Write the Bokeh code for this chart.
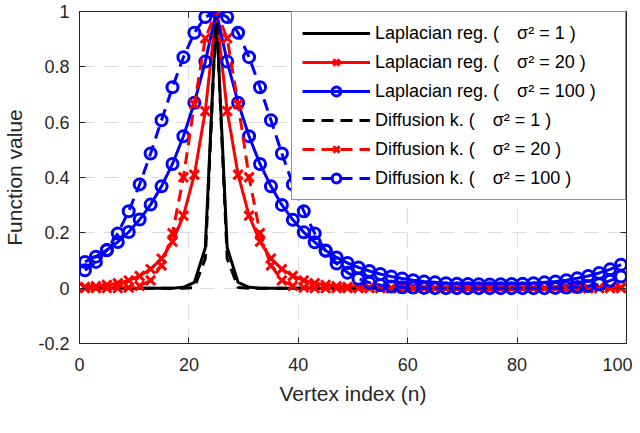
from bokeh.embed import file_html
from bokeh.resources import INLINE
from bokeh.models import (ColumnDataSource, Range1d, FixedTicker, LinearAxis,
                          Legend, LegendItem)
from bokeh.plotting import figure

# vertex indices (every other vertex is plotted)
vertex = [1, 3, 5, 7, 9, 11, 13, 15, 17, 19, 21, 23, 25, 27, 29, 31, 33, 35, 37, 39,
          41, 43, 45, 47, 49, 51, 53, 55, 57, 59, 61, 63, 65, 67, 69, 71, 73, 75, 77, 79,
          81, 83, 85, 87, 89, 91, 93, 95, 97, 99]

lap_1 = [0, 0, 0, 0, 0, 0, 0, 0, 0, 0.003, 0.021, 0.146, 1.0, 0.146, 0.021, 0.003,
         0, 0, 0, 0, 0, 0, 0, 0, 0, 0, 0, 0, 0, 0, 0, 0, 0, 0, 0, 0, 0, 0, 0, 0,
         0, 0, 0, 0, 0, 0, 0, 0, 0, 0]
lap_20 = [0.005, 0.007, 0.012, 0.018, 0.028, 0.044, 0.069, 0.107, 0.168, 0.262,
          0.410, 0.640, 1.0, 0.640, 0.410, 0.262, 0.168, 0.107, 0.069, 0.044,
          0.028, 0.018, 0.012, 0.007, 0.005, 0.003, 0.002, 0.001, 0, 0,
          0, 0, 0, 0, 0, 0, 0, 0, 0, 0, 0, 0, 0, 0, 0, 0, 0, 0.001, 0.002, 0.003]
lap_100 = [0.095, 0.114, 0.138, 0.167, 0.203, 0.248, 0.302, 0.368, 0.449, 0.549,
           0.670, 0.819, 1.0, 0.819, 0.670, 0.549, 0.449, 0.368, 0.301, 0.247,
           0.202, 0.166, 0.136, 0.111, 0.091, 0.075, 0.062, 0.051, 0.042, 0.035,
           0.029, 0.024, 0.021, 0.018, 0.016, 0.015, 0.014, 0.013, 0.014, 0.015,
           0.016, 0.018, 0.021, 0.024, 0.029, 0.036, 0.044, 0.055, 0.068, 0.085]
dif_1 = [0, 0, 0, 0, 0, 0, 0, 0, 0, 0, 0.002, 0.107, 1.0, 0.107, 0.002,
         0, 0, 0, 0, 0, 0, 0, 0, 0, 0, 0, 0, 0, 0, 0, 0, 0, 0, 0, 0, 0, 0, 0, 0,
         0, 0, 0, 0, 0, 0, 0, 0, 0, 0, 0]
dif_20 = [0, 0, 0, 0, 0.002, 0.008, 0.028, 0.082, 0.199, 0.401, 0.665, 0.903, 1.0,
          0.903, 0.665, 0.401, 0.199, 0.082, 0.028, 0.008, 0.002,
          0, 0, 0, 0, 0, 0, 0, 0, 0, 0, 0, 0, 0, 0, 0, 0, 0, 0, 0, 0, 0, 0, 0, 0,
          0, 0, 0, 0, 0]
dif_100 = [0.065, 0.095, 0.137, 0.198, 0.278, 0.375, 0.487, 0.607, 0.726, 0.835,
           0.923, 0.980, 1.0, 0.980, 0.923, 0.835, 0.726, 0.607, 0.487, 0.375,
           0.278, 0.198, 0.135, 0.089, 0.056, 0.034, 0.020, 0.011, 0.006, 0.003,
           0.002, 0.001, 0, 0, 0, 0, 0, 0, 0, 0, 0, 0, 0, 0.001, 0.002, 0.004,
           0.008, 0.014, 0.027, 0.042]

x_ticks = [0, 20, 40, 60, 80, 100]
y_ticks = [-0.2, 0, 0.2, 0.4, 0.6, 0.8, 1]
y_tick_labels = ["-0.2", "0", "0.2", "0.4", "0.6", "0.8", "1"]

FONT = "Liberation Sans"
AX = "#262626"

p = figure(
    width=632,
    height=425,
    x_range=Range1d(0, 100),
    y_range=Range1d(-0.2, 1),
    output_backend="svg",
    toolbar_location=None,
    min_border_left=78,
    min_border_right=6,
    min_border_top=11,
    min_border_bottom=82,
    outline_line_color=AX,
    background_fill_color="white",
    border_fill_color="white",
)

p.xaxis.ticker = FixedTicker(ticks=x_ticks)
p.yaxis.ticker = FixedTicker(ticks=y_ticks)
p.yaxis.major_label_overrides = dict(zip(y_ticks, y_tick_labels))
p.xaxis.axis_label = "Vertex index (n)"
p.yaxis.axis_label = "Function value"
p.xaxis.major_label_standoff = 14
p.yaxis.major_label_standoff = 10
p.xaxis.axis_label_standoff = 8
p.yaxis.axis_label_standoff = 9

for ax in [p.xaxis[0], p.yaxis[0]]:
    ax.major_tick_in = 6
    ax.major_tick_out = 0
    ax.minor_tick_line_color = None
    ax.axis_line_color = AX
    ax.major_tick_line_color = AX
    ax.major_label_text_font = FONT
    ax.major_label_text_font_size = "18px"
    ax.major_label_text_color = AX
    ax.axis_label_text_font = FONT
    ax.axis_label_text_font_size = "21px"
    ax.axis_label_text_font_style = "normal"
    ax.axis_label_text_color = AX

# box ticks on top and right, without labels
for side, ticks in [("above", x_ticks), ("right", y_ticks)]:
    ax = LinearAxis(ticker=FixedTicker(ticks=ticks))
    ax.major_tick_in = 6
    ax.major_tick_out = 0
    ax.minor_tick_line_color = None
    ax.axis_line_color = AX
    ax.major_tick_line_color = AX
    ax.major_label_text_color = None
    ax.major_label_text_font_size = "1px"
    ax.major_label_standoff = 0
    p.add_layout(ax, side)

p.grid.grid_line_color = "#dcdcdc"
p.grid.grid_line_width = 1.2
p.grid.grid_line_dash = "15 9"
p.xgrid.ticker = FixedTicker(ticks=x_ticks)
p.ygrid.ticker = FixedTicker(ticks=y_ticks)

src = ColumnDataSource(dict(n=vertex, lap_1=lap_1, lap_20=lap_20, lap_100=lap_100,
                            dif_1=dif_1, dif_20=dif_20, dif_100=dif_100))

series = [
    ("lap_1", "black", None, "solid", "Laplacian reg. (\u2003σ² = 1 )"),
    ("lap_20", "red", "x", "solid", "Laplacian reg. (\u2003σ² = 20 )"),
    ("lap_100", "blue", "circle", "solid", "Laplacian reg. (\u2003σ² = 100 )"),
    ("dif_1", "black", None, "12 7", "Diffusion k. (\u2003σ² = 1 )"),
    ("dif_20", "red", "x", "12 7", "Diffusion k. (\u2003σ² = 20 )"),
    ("dif_100", "blue", "circle", "12 7", "Diffusion k. (\u2003σ² = 100 )"),
]

items = []
for col, color, marker, dash, label in series:
    rs = [p.line("n", col, source=src, line_color=color, line_width=3, line_dash=dash)]
    if marker:
        rs.append(p.scatter("n", col, source=src, marker=marker,
                            size=13 if marker == "x" else 11,
                            line_color=color, line_width=3, fill_color=None))
    items.append(LegendItem(label=label, renderers=rs))

legend = Legend(
    items=items,
    location="top_right",
    margin=0,
    padding=10,
    spacing=7,
    glyph_width=68,
    glyph_height=22,
    label_height=22,
    label_width=240,
    label_standoff=5,
    label_text_font=FONT,
    label_text_font_size="18px",
    label_text_color="black",
    border_line_color=AX,
    border_line_width=1,
    background_fill_color="white",
    background_fill_alpha=1.0,
)
p.add_layout(legend)

open("out.html", "w").write(file_html(p, INLINE))
